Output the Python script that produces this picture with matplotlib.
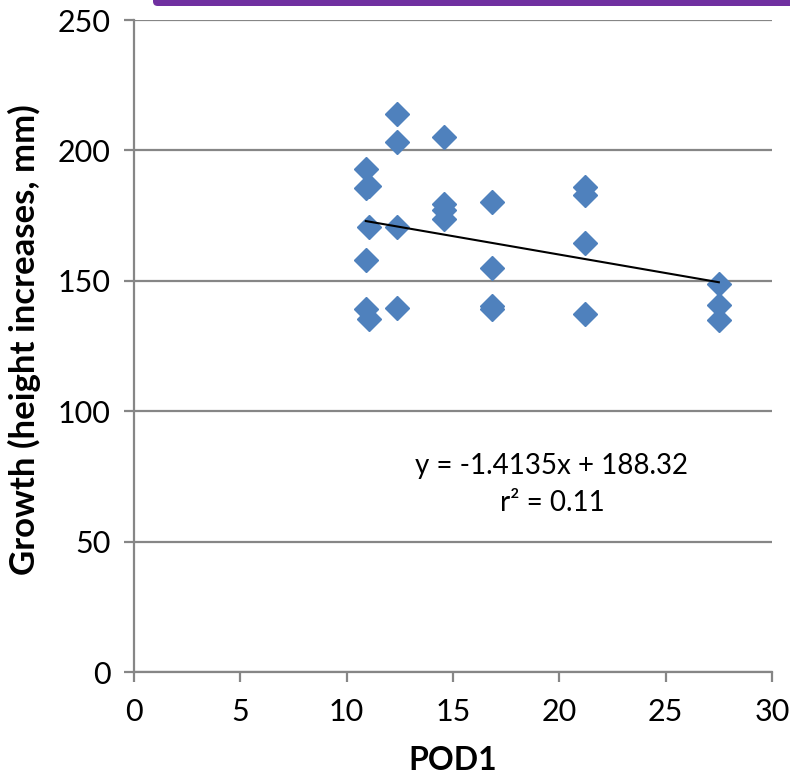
import matplotlib
matplotlib.use("Agg")
import matplotlib.pyplot as plt
from matplotlib.patches import FancyBboxPatch
import numpy as np

plt.rcParams['font.family'] = ['Lato', 'DejaVu Sans']

pod1 = [10.9, 10.9, 10.9, 10.9, 11.05, 11.05, 11.05,
        12.35, 12.35, 12.35, 12.35,
        14.6, 14.6, 14.6, 14.6,
        16.85, 16.85, 16.85, 16.85,
        21.2, 21.2, 21.2, 21.2,
        27.5, 27.5, 27.5]
growth = [192.8, 185.5, 158.0, 139.1, 186.5, 170.5, 135.2,
          213.8, 203.3, 170.5, 139.5,
          205.3, 179.3, 177.1, 173.8,
          180.1, 154.8, 140.5, 139.3,
          186.0, 182.8, 164.6, 137.1,
          148.8, 140.7, 135.0]
slope = -1.4135
intercept = 188.32
r2 = 0.11
xticks = [0, 5, 10, 15, 20, 25, 30]
yticks = [0, 50, 100, 150, 200, 250]

fig = plt.figure(figsize=(7.9, 7.77), dpi=100)
ax = fig.add_axes([134/790, 105/777, 638/790, 652/777])

grid_c = '#868686'
ax.set_xlim(0, 30)
ax.set_ylim(0, 250)
ax.set_xticks(xticks)
ax.set_yticks(yticks)
ax.grid(axis='y', color=grid_c, linewidth=1.6)
ax.set_axisbelow(True)
for s in ['top', 'right']:
    ax.spines[s].set_visible(False)
for s in ['left', 'bottom']:
    ax.spines[s].set_color(grid_c)
    ax.spines[s].set_linewidth(1.6)
ax.tick_params(axis='both', direction='out', length=7, width=1.6, color=grid_c,
               labelsize=22)
ax.tick_params(axis='x', pad=12)
ax.tick_params(axis='y', pad=10)

ax.plot(pod1, growth, linestyle='none', marker='D', markersize=12,
        color='#4F81BD', markeredgecolor='#4F81BD', zorder=3)

xl = np.array([min(pod1), max(pod1)])
ax.plot(xl, slope * xl + intercept, color='black', linewidth=1.5, zorder=4)

ax.text(19.65, 79, f"y = {slope}x + {intercept}", ha='center', va='center', fontsize=20)
ax.text(19.65, 64.8, f"r² = {r2}", ha='center', va='center', fontsize=20)

ax.set_xlabel("POD1", fontsize=23, fontweight='bold', va='center')
ax.xaxis.set_label_coords(0.5, -0.135)
ax.set_ylabel("Growth (height increases, mm)", fontsize=25, fontweight='bold', va='center')
ax.yaxis.set_label_coords(-0.171, 0.51)

bar = FancyBboxPatch((153/790, 1 - 6/777), 1 - 153/790 + 0.02, 0.03,
                     boxstyle="round,pad=0,rounding_size=0.006",
                     transform=fig.transFigure, facecolor='#7030A0',
                     edgecolor='none', clip_on=False)
fig.patches.append(bar)

fig.savefig("out.png", dpi=100)
